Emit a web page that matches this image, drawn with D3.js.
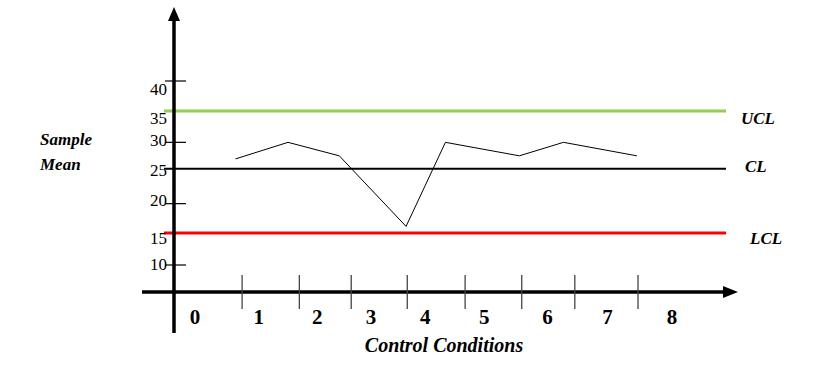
<!DOCTYPE html>
<html>
<head>
<meta charset="utf-8">
<script src="https://cdn.jsdelivr.net/npm/d3@7"></script>
<style>
  body { margin: 0; background: #fff; }
  svg text { font-family: "Liberation Serif", "Times New Roman", serif; fill: #000; }
</style>
</head>
<body>
<div id="chart"></div>
<script>
// data
var conditions   = [0, 1, 2, 3, 4, 5, 6, 7, 8];
var labelAt      = [0, 1.07, 2.05, 2.95, 3.86, 4.85, 5.91, 6.92, 8];   // where each condition label sits
var tickAt       = [0.79, 1.75, 2.62, 3.56, 4.53, 5.48, 6.37, 7.43];   // dividers between conditions
var sampleAt     = [0.68, 1.56, 2.42, 3.54, 4.2, 5.44, 6.18, 7.41];
var sampleMean   = [27.3, 30, 27.8, 16.3, 30, 27.8, 30, 27.8];
var yLabels      = [10, 15, 20, 25, 30, 35, 40];
var yTicks       = [10, 20, 30, 40];
var limitNames   = ['UCL', 'CL', 'LCL'];
var limitValues  = [35.1, 25.7, 15.2];
var limitColors  = ['#92d050', '#000', '#ff0000'];

var chart_width  = 836;
var chart_height = 371;
var axis_x       = 174;   // y axis position
var axis_y       = 292;   // x axis position

var svg = d3.select('#chart')
    .append('svg')
    .attr('width', chart_width)
    .attr('height', chart_height)
    .attr('font-family', '"Liberation Serif", "Times New Roman", serif');

var x = d3.scaleLinear().domain([0, 8]).range([195, 672]);
var y = d3.scaleLinear().domain([10, 40]).range([265, 81]);

// limit lines
svg.selectAll('line.limit')
    .data(limitValues)
    .enter()
    .append('line')
    .attr('class', 'limit')
    .attr('x1', 164)
    .attr('x2', 726)
    .attr('y1', function(d){ return y(d); })
    .attr('y2', function(d){ return y(d); })
    .attr('stroke', function(d, i){ return limitColors[i]; })
    .attr('stroke-width', function(d, i){ return i == 1 ? 2 : 3; });

svg.selectAll('text.limit')
    .data(limitNames)
    .enter()
    .append('text')
    .attr('class', 'limit')
    .text(function(d){ return d; })
    .attr('x', function(d, i){ return [741, 745, 750][i]; })
    .attr('y', function(d, i){ return y(limitValues[i]) + [7, -3, 5][i]; })
    .attr('dy', '0.35em')
    .attr('font-size', 17)
    .attr('font-weight', 'bold')
    .attr('font-style', 'italic');

// sample means
var line = d3.line()
    .x(function(d, i){ return x(sampleAt[i]); })
    .y(function(d){ return y(d); });

svg.append('path')
    .datum(sampleMean)
    .attr('d', line)
    .attr('fill', 'none')
    .attr('stroke', '#000')
    .attr('stroke-width', 1);

// y axis
svg.append('line')
    .attr('x1', axis_x).attr('x2', axis_x)
    .attr('y1', 18).attr('y2', 333)
    .attr('stroke', '#000').attr('stroke-width', 3.5);
svg.append('path')
    .attr('d', 'M' + axis_x + ',7 L' + (axis_x - 6) + ',21 L' + (axis_x + 6) + ',21 Z')
    .attr('fill', '#000');

svg.selectAll('line.ytick')
    .data(yTicks)
    .enter()
    .append('line')
    .attr('class', 'ytick')
    .attr('x1', 165)
    .attr('x2', 186)
    .attr('y1', function(d){ return y(d); })
    .attr('y2', function(d){ return y(d); })
    .attr('stroke', '#000')
    .attr('stroke-width', 1.2);

svg.selectAll('text.ylabel')
    .data(yLabels)
    .enter()
    .append('text')
    .attr('class', 'ylabel')
    .text(function(d){ return d; })
    .attr('x', 167)
    .attr('y', function(d){ return y(d) + ({40: 8, 35: 6, 30: -2, 25: -3, 20: -4, 15: 4, 10: -1})[d]; })
    .attr('dy', '0.35em')
    .attr('text-anchor', 'end')
    .attr('font-size', 17);

svg.append('text')
    .text('Sample')
    .attr('x', 40).attr('y', 139).attr('dy', '0.35em')
    .attr('font-size', 17).attr('font-weight', 'bold').attr('font-style', 'italic');
svg.append('text')
    .text('Mean')
    .attr('x', 40).attr('y', 164).attr('dy', '0.35em')
    .attr('font-size', 17).attr('font-weight', 'bold').attr('font-style', 'italic');

// x axis
svg.append('line')
    .attr('x1', 142).attr('x2', 726)
    .attr('y1', axis_y).attr('y2', axis_y)
    .attr('stroke', '#000').attr('stroke-width', 3.5);
svg.append('path')
    .attr('d', 'M738,' + axis_y + ' L723,' + (axis_y - 6) + ' L723,' + (axis_y + 6) + ' Z')
    .attr('fill', '#000');

svg.selectAll('line.xtick')
    .data(tickAt)
    .enter()
    .append('line')
    .attr('class', 'xtick')
    .attr('x1', function(d){ return x(d); })
    .attr('x2', function(d){ return x(d); })
    .attr('y1', 275)
    .attr('y2', 309)
    .attr('stroke', '#444')
    .attr('stroke-width', 1.3);

svg.selectAll('text.xlabel')
    .data(conditions)
    .enter()
    .append('text')
    .attr('class', 'xlabel')
    .text(function(d){ return d; })
    .attr('x', function(d, i){ return x(labelAt[i]); })
    .attr('y', 317)
    .attr('dy', '0.35em')
    .attr('text-anchor', 'middle')
    .attr('font-size', 21)
    .attr('font-weight', 'bold');

svg.append('text')
    .text('Control Conditions')
    .attr('x', 444).attr('y', 345).attr('dy', '0.35em')
    .attr('text-anchor', 'middle')
    .attr('font-size', 20).attr('font-weight', 'bold').attr('font-style', 'italic');
</script>
</body>
</html>
